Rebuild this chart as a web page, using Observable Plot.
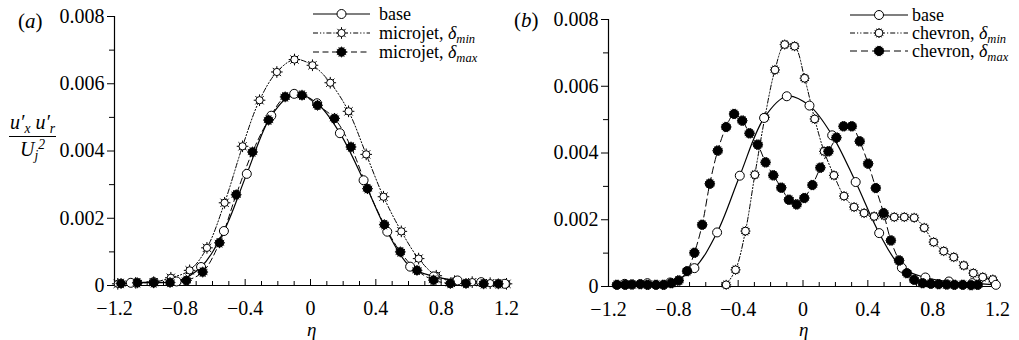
<!DOCTYPE html>
<html><head><meta charset="utf-8">
<script src="https://cdn.jsdelivr.net/npm/d3@7"></script>
<script src="https://cdn.jsdelivr.net/npm/@observablehq/plot@0.6"></script>
<style>
body{margin:0;background:#fff}
#wrap{position:relative;width:1019px;height:340px;font-family:'Liberation Serif';color:#000;background:#fff;overflow:hidden}
#wrap svg, #wrap svg text{font-family:'Liberation Serif' !important}
.pan{position:absolute;top:0}
.lab{position:absolute;font-size:21px;line-height:1;white-space:nowrap;font-family:'Liberation Serif'}
.it{font-style:italic}
.sb{font-size:0.68em;position:relative;top:0.32em}
.sp{font-size:0.68em;position:relative;top:-0.5em}
</style></head><body><div id="wrap"></div>
<script>
// ---------- data ----------
const etaTicks = [-1.2, -0.8, -0.4, 0, 0.4, 0.8, 1.2];
const etaMinor = [-1.1, -1.0, -0.9, -0.7, -0.6, -0.5, -0.3, -0.2, -0.1, 0.1, 0.2, 0.3, 0.5, 0.6, 0.7, 0.9, 1.0, 1.1];
const yTicks = [0, 0.002, 0.004, 0.006, 0.008];
const yMinor = [0.001, 0.003, 0.005, 0.007];

// base (same in both panels)
const baseEta = [-1.1, -0.96, -0.82, -0.67, -0.53, -0.39, -0.24, -0.10, 0.04, 0.18, 0.325, 0.47, 0.61, 0.755, 0.90, 1.045, 1.19];
const baseVal = [0.00008, 0.0001, 0.00012, 0.00055, 0.00162, 0.00332, 0.00505, 0.0057, 0.00542, 0.00453, 0.00313, 0.0016, 0.00056, 0.00027, 0.00015, 0.0001, 0.00005];

// panel (a): microjet
const mjMinEta = [-1.18, -1.07, -0.96, -0.855, -0.74, -0.634, -0.526, -0.416, -0.312, -0.206, -0.098, 0.012, 0.121, 0.233, 0.341, 0.447, 0.556, 0.662, 0.77, 0.882, 0.99, 1.1, 1.2];
const mjMinVal = [0.00005, 0.00008, 0.0001, 0.00023, 0.00045, 0.00112, 0.00246, 0.00414, 0.00551, 0.00635, 0.00672, 0.00655, 0.00603, 0.00518, 0.0039, 0.00264, 0.00161, 0.0008, 0.00029, 0.00013, 0.0001, 0.00007, 0.00005];
const mjMaxEta = [-1.16, -1.06, -0.96, -0.86, -0.76, -0.66, -0.557, -0.455, -0.355, -0.257, -0.155, -0.052, 0.043, 0.147, 0.248, 0.349, 0.452, 0.55, 0.652, 0.753, 0.856, 0.952, 1.06, 1.15];
const mjMaxVal = [0.00006, 0.00008, 0.00008, 0.00009, 0.00015, 0.0004, 0.00127, 0.0027, 0.00397, 0.00492, 0.00561, 0.00566, 0.00536, 0.00497, 0.00412, 0.00288, 0.00181, 0.001, 0.00045, 0.00016, 0.00006, 0.00006, 0.00005, 0.00005];

// panel (b): chevron
const chMinEta = [-0.474, -0.416, -0.355, -0.297, -0.235, -0.173, -0.113, -0.052, 0.01, 0.072, 0.13, 0.191, 0.253, 0.315, 0.377, 0.439, 0.5, 0.563, 0.625, 0.686, 0.748, 0.806, 0.868, 0.93, 0.992, 1.051, 1.109, 1.171];
const chMinVal = [0.00005, 0.0005, 0.00166, 0.00335, 0.00507, 0.00649, 0.00725, 0.0072, 0.00624, 0.00502, 0.00405, 0.00333, 0.00271, 0.00238, 0.0022, 0.0021, 0.00213, 0.00208, 0.00208, 0.00206, 0.00176, 0.00133, 0.00106, 0.00088, 0.00063, 0.0004, 0.00028, 0.00021];
const chMaxEta = [-1.148, -1.097, -1.055, -1.004, -0.959, -0.907, -0.86, -0.812, -0.767, -0.715, -0.67, -0.622, -0.575, -0.526, -0.474, -0.425, -0.375, -0.33, -0.279, -0.231, -0.183, -0.134, -0.087, -0.039, 0.008, 0.058, 0.107, 0.157, 0.206, 0.25, 0.301, 0.35, 0.402, 0.449, 0.497, 0.542, 0.593, 0.641, 0.686, 0.738, 0.789, 0.837, 0.887, 0.934, 0.986, 1.037, 1.078];
const chMaxVal = [0.00005, 0.00005, 0.00006, 0.00007, 0.00005, 0.00005, 0.00005, 0.0001, 0.00018, 0.00046, 0.00101, 0.00185, 0.00308, 0.00407, 0.00478, 0.00517, 0.00497, 0.00459, 0.00425, 0.00372, 0.00333, 0.00296, 0.0026, 0.00246, 0.00265, 0.00304, 0.00356, 0.00405, 0.00446, 0.0048, 0.0048, 0.00435, 0.00368, 0.00295, 0.0022, 0.00138, 0.00078, 0.0004, 0.0002, 0.0001, 0.00008, 0.00007, 0.00006, 0.00005, 0.00005, 0.00004, 0.00005];

// ---------- symbols ----------
function sun(n, body, out) {
  return {draw(ctx, size) {
    const r = Math.sqrt(size / Math.PI), rb = r * body, ro = r * out;
    ctx.moveTo(rb, 0); ctx.arc(0, 0, rb, 0, 2 * Math.PI);
    for (let i = 0; i < n; i++) {
      const a = 2 * Math.PI * i / n;
      ctx.moveTo(Math.cos(a) * rb, Math.sin(a) * rb);
      ctx.lineTo(Math.cos(a) * ro, Math.sin(a) * ro);
    }
  }};
}
const symMjMin = sun(8, 0.7, 1.12);
const symMjMax = sun(12, 0.85, 1.08);
const symChMin = sun(12, 0.78, 1.0);
const symChMax = sun(14, 0.9, 1.06);

const DASH_MIN = "5,2,1.2,2,1.2,2";
const DASH_MAX = "6,3.5";
const FONT = "Liberation Serif";

const toRows = (E, V) => E.map((e, i) => ({eta: e, v: V[i]}));
const fmtX = d => d === 0 ? "0" : (d < 0 ? "\u2212" : "") + Math.abs(d).toFixed(1);
const fmtY = d => d === 0 ? "0" : d.toFixed(3);

function panel({width, mL, mR, mT, mB, series}) {
  const height = 340, innerH = height - mT - mB;
  const marks = [
    Plot.ruleY([0], {strokeWidth: 1.2}),
    Plot.ruleX([-1.2], {strokeWidth: 1.2}),
    Plot.ruleX(etaTicks, {x: d => d, insetTop: innerH - 6}),
    Plot.ruleX(etaMinor, {x: d => d, insetTop: innerH - 4}),
    Plot.axisY({ticks: yTicks, tickSize: 7, tickPadding: 3, tickFormat: fmtY, label: null}),
    Plot.axisY({ticks: yMinor, tickSize: 5, tickFormat: () => "", label: null}),
    Plot.axisX({ticks: etaTicks, tickSize: 0, tickPadding: 15, tickFormat: fmtX, label: null})
  ];
  for (const s of series) {
    const rows = toRows(s.eta, s.val);
    marks.push(Plot.line(rows, {x: "eta", y: "v", curve: "catmull-rom", stroke: "#000", strokeWidth: s.sw, strokeDasharray: s.dash}));
  }
  for (const s of series) {
    const rows = toRows(s.eta, s.val);
    marks.push(Plot.dot(rows, {x: "eta", y: "v", r: s.r, symbol: s.sym, fill: s.fill, stroke: "#000", strokeWidth: 1}));
  }
  const svg = Plot.plot({
    width, height, marginLeft: mL, marginRight: mR, marginTop: mT, marginBottom: mB,
    x: {domain: [-1.2, 1.2]},
    y: {domain: [0, 0.008]},
    style: {fontSize: "20px", background: "transparent", overflow: "visible", color: "#000"},
    marks
  });
  svg.setAttribute("font-family", FONT);
  svg.setAttribute("font-size", "20");
  svg.style.fontFamily = "'Liberation Serif'";
  return svg;
}

const seriesA = [
  {name: "mjMin", eta: mjMinEta, val: mjMinVal, sym: symMjMin, fill: "#fff", r: 5.2, dash: DASH_MIN, sw: 1},
  {name: "base", eta: baseEta, val: baseVal, sym: "circle", fill: "#fff", r: 4.5, dash: null, sw: 1.2},
  {name: "mjMax", eta: mjMaxEta, val: mjMaxVal, sym: symMjMax, fill: "#000", r: 5, dash: DASH_MAX, sw: 1}
];
const seriesB = [
  {name: "chMin", eta: chMinEta, val: chMinVal, sym: symChMin, fill: "#fff", r: 5, dash: DASH_MIN, sw: 1},
  {name: "base", eta: baseEta, val: baseVal, sym: "circle", fill: "#fff", r: 4.5, dash: null, sw: 1.2},
  {name: "chMax", eta: chMaxEta, val: chMaxVal, sym: symChMax, fill: "#000", r: 5, dash: "7,4", sw: 1}
];

const wrap = document.getElementById("wrap");
const pa = panel({width: 509, mL: 114, mR: 3, mT: 16, mB: 55, series: seriesA});
pa.classList.add("pan"); pa.style.left = "0px";
wrap.appendChild(pa);
const pb = panel({width: 510, mL: 99, mR: 22, mT: 19, mB: 54, series: seriesB});
pb.classList.add("pan"); pb.style.left = "509px";
wrap.appendChild(pb);

// ---------- text labels ----------
function addLab(html, left, top, extra) {
  const d = document.createElement("div");
  d.className = "lab"; d.innerHTML = html;
  d.style.left = left + "px"; d.style.top = top + "px";
  if (extra) Object.assign(d.style, extra);
  wrap.appendChild(d);
  return d;
}
addLab('(<span class="it">a</span>)', 18, 11);
addLab('(<span class="it">b</span>)', 514, 10);
addLab('<span class="it">η</span>', 307, 324, {lineHeight: "12px", fontSize: "19px"});
addLab('<span class="it">η</span>', 799, 324, {lineHeight: "12px", fontSize: "19px"});
// y label fraction
addLab('<div style="text-align:center;font-style:italic;font-size:20px;line-height:1">' +
  '<div style="border-bottom:1.2px solid #000;padding:0 1px 4px">u′<span class="sb">x</span> u′<span class="sb">r</span></div>' +
  '<div style="padding-top:2px">U<span class="sb">j</span><span class="sp">2</span></div></div>', 9, 112);

// ---------- legends ----------
const lg = d3.select(wrap).append("svg")
  .attr("width", 1019).attr("height", 340)
  .style("position", "absolute").style("left", 0).style("top", 0)
  .attr("font-family", FONT).style("font-family", "'Liberation Serif'").style("font-size", "18px");

const legA = [
  {s: seriesA[1], y: 14, txt: "base", sub: null},
  {s: seriesA[0], y: 33, txt: "microjet, ", sub: "min"},
  {s: seriesA[2], y: 52, txt: "microjet, ", sub: "max"}
];
const legB = [
  {s: seriesB[1], y: 15, txt: "base", sub: null},
  {s: seriesB[0], y: 33, txt: "chevron, ", sub: "min"},
  {s: seriesB[2], y: 51, txt: "chevron, ", sub: "max"}
];
function drawLegend(items, x1, x2, tx) {
  for (const it of items) {
    lg.append("line").attr("x1", x1).attr("x2", x2).attr("y1", it.y).attr("y2", it.y)
      .attr("stroke", "#000").attr("stroke-width", it.s.sw)
      .attr("stroke-dasharray", it.s.dash);
    const sym = typeof it.s.sym === "string" ? d3.symbolCircle : it.s.sym;
    lg.append("path").attr("d", d3.symbol(sym, it.s.r * it.s.r * Math.PI)())
      .attr("transform", `translate(${(x1 + x2) / 2},${it.y})`)
      .attr("fill", it.s.fill).attr("stroke", "#000");
    const t = lg.append("text").attr("x", tx).attr("y", it.y + 5.5);
    t.append("tspan").text(it.txt);
    if (it.sub) {
      t.append("tspan").attr("font-style", "italic").text("δ");
      t.append("tspan").attr("font-style", "italic").attr("font-size", "12.5px").attr("dy", 4).text(it.sub);
    }
  }
}
drawLegend(legA, 313, 370, 379);
drawLegend(legB, 850, 908, 912);
</script></body></html>
